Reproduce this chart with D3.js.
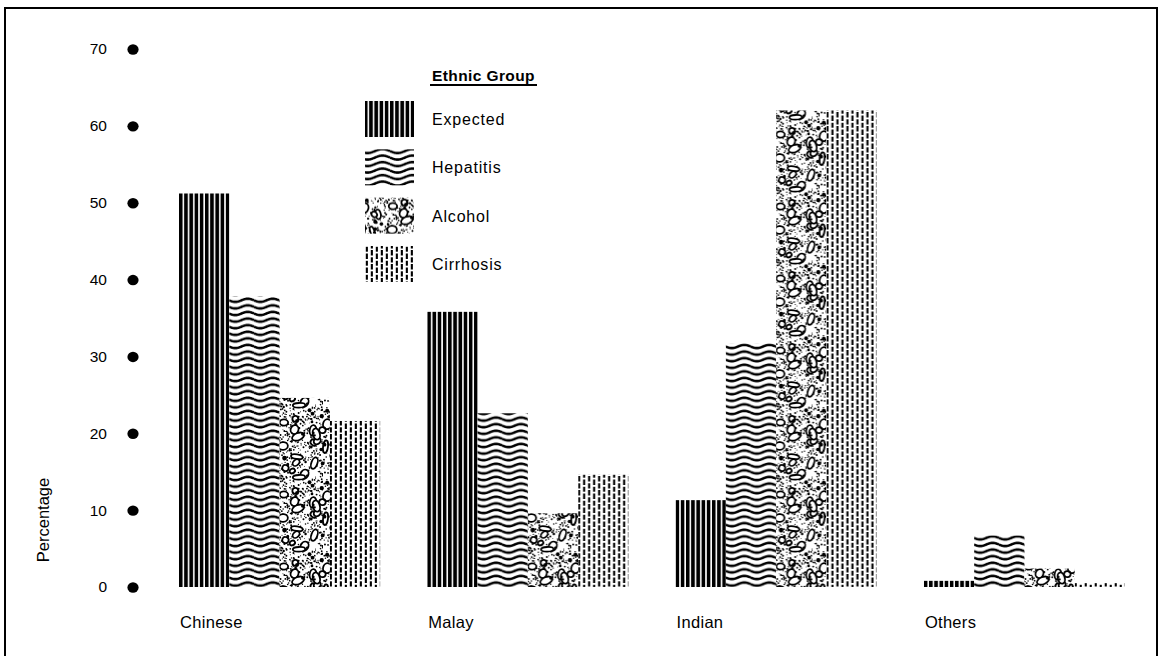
<!DOCTYPE html>
<html>
<head>
<meta charset="utf-8">
<script src="https://cdn.jsdelivr.net/npm/d3@7"></script>
<style>
  html, body { margin: 0; padding: 0; background: #fff; }
  svg { display: block; font-family: "Liberation Sans", Arial, Helvetica, sans-serif; }
</style>
</head>
<body>
<svg id="chart" width="1168" height="656"></svg>
<script>
// ---- data ----
const categories = ["Chinese", "Malay", "Indian", "Others"];
const seriesNames = ["Expected", "Hepatitis", "Alcohol", "Cirrhosis"];
const expected  = [51.2, 35.8, 11.3, 0.8];
const hepatitis = [37.8, 22.6, 31.7, 6.7];
const alcohol   = [24.6, 9.6, 62.0, 2.4];
const cirrhosis = [21.6, 14.6, 62.0, 0.5];
const yTicks = [0, 10, 20, 30, 40, 50, 60, 70];
const legendTitle = "Ethnic Group";
const yTitle = "Percentage";

const seriesValues = [expected, hepatitis, alcohol, cirrhosis];

const svg = d3.select("#chart");
const W = 1168, H = 656;

// ---- patterns ----
const defs = svg.append("defs");

// Expected: vertical solid stripes
const pE = defs.append("pattern").attr("id", "pat-expected")
  .attr("patternUnits", "userSpaceOnUse").attr("width", 5.2).attr("height", 10);
pE.append("rect").attr("width", 5.2).attr("height", 10).attr("fill", "#fff");
pE.append("rect").attr("x", 0).attr("width", 3.6).attr("height", 10).attr("fill", "#000");

// Hepatitis: wavy horizontal lines
const wl = 25, wp = 6.6, amp = 1.6;
const pH = defs.append("pattern").attr("id", "pat-hepatitis")
  .attr("patternUnits", "userSpaceOnUse").attr("width", wl).attr("height", wp);
pH.append("rect").attr("width", wl).attr("height", wp).attr("fill", "#fff");
[-wp, 0, wp].forEach(off => {
  const pts = d3.range(0, wl + 0.5, 0.5).map(x => [x, wp / 2 + off + amp * Math.sin(2 * Math.PI * x / wl)]);
  pH.append("path").attr("d", d3.line()(pts)).attr("fill", "none")
    .attr("stroke", "#000").attr("stroke-width", 2.5);
});
// legend version with larger waves
const lwl = 30, lwp = 6.5, lamp = 2;
const pHL = defs.append("pattern").attr("id", "pat-hepatitis-leg")
  .attr("patternUnits", "userSpaceOnUse").attr("width", lwl).attr("height", lwp);
pHL.append("rect").attr("width", lwl).attr("height", lwp).attr("fill", "#fff");
[-lwp, 0, lwp].forEach(off => {
  const pts = d3.range(0, lwl + 0.5, 0.5).map(x => [x, lwp / 2 + off + lamp * Math.sin(2 * Math.PI * x / lwl)]);
  pHL.append("path").attr("d", d3.line()(pts)).attr("fill", "none")
    .attr("stroke", "#000").attr("stroke-width", 2.4);
});

// Alcohol: stipple with pebbles (deterministic texture generator)
let seed = 11;
function rnd() { seed = (seed * 16807) % 2147483647; return (seed - 1) / 2147483646; }
const tA = 72;
const pA = defs.append("pattern").attr("id", "pat-alcohol")
  .attr("patternUnits", "userSpaceOnUse").attr("width", tA).attr("height", tA);
pA.append("rect").attr("width", tA).attr("height", tA).attr("fill", "#fff");
for (let i = 0; i < 620; i++) {
  pA.append("circle").attr("cx", rnd() * tA).attr("cy", rnd() * tA)
    .attr("r", 0.45 + rnd() * 0.6).attr("fill", "#000");
}
const offs = [];
[-tA, 0, tA].forEach(dx => [-tA, 0, tA].forEach(dy => offs.push([dx, dy])));
for (let i = 0; i < 24; i++) {
  const p = {x: rnd() * tA, y: rnd() * tA, rx: 2.8 + rnd() * 3.6, ry: 2.0 + rnd() * 2.2, a: rnd() * 180};
  offs.forEach(([dx, dy]) => {
    pA.append("ellipse").attr("cx", p.x + dx).attr("cy", p.y + dy)
      .attr("rx", p.rx).attr("ry", p.ry)
      .attr("transform", `rotate(${p.a},${p.x + dx},${p.y + dy})`)
      .attr("fill", "#fff").attr("stroke", "#000").attr("stroke-width", 1.8);
  });
}
for (let i = 0; i < 30; i++) {
  const p = {x: rnd() * tA, y: rnd() * tA, r: 1.0 + rnd() * 1.4};
  offs.forEach(([dx, dy]) => {
    pA.append("circle").attr("cx", p.x + dx).attr("cy", p.y + dy).attr("r", p.r).attr("fill", "#000");
  });
}

// Cirrhosis: vertical dashed lines, staggered
const pC = defs.append("pattern").attr("id", "pat-cirrhosis")
  .attr("patternUnits", "userSpaceOnUse").attr("width", 10).attr("height", 14);
pC.append("rect").attr("width", 10).attr("height", 14).attr("fill", "#fff");
pC.append("rect").attr("x", 0.8).attr("y", 0).attr("width", 2.1).attr("height", 5.5).attr("fill", "#000");
pC.append("rect").attr("x", 0.8).attr("y", 7.3).attr("width", 2.1).attr("height", 5.2).attr("fill", "#000");
pC.append("rect").attr("x", 5.8).attr("y", 3.5).attr("width", 2.1).attr("height", 5.5).attr("fill", "#000");
pC.append("rect").attr("x", 5.8).attr("y", 10.8).attr("width", 2.1).attr("height", 3.2).attr("fill", "#000");
pC.append("rect").attr("x", 5.8).attr("y", 0).attr("width", 2.1).attr("height", 1.7).attr("fill", "#000");

const fills = ["url(#pat-expected)", "url(#pat-hepatitis)", "url(#pat-alcohol)", "url(#pat-cirrhosis)"];
const legendFills = ["url(#pat-expected)", "url(#pat-hepatitis-leg)", "url(#pat-alcohol)", "url(#pat-cirrhosis)"];

// ---- frame ----
svg.append("path")
  .attr("d", `M5,${H + 5} L5,8 L1157,8 L1157,${H + 5}`)
  .attr("fill", "none").attr("stroke", "#000").attr("stroke-width", 2);

// ---- scales ----
const y = d3.scaleLinear().domain([0, 70]).range([587, 49]);
const x0 = d3.scaleBand().domain(categories).range([179, 1125]).paddingInner(0.19).paddingOuter(0);
const x1 = d3.scaleBand().domain(seriesNames).range([0, x0.bandwidth()]).padding(0);

// ---- y axis with dot ticks ----
const yAxis = d3.axisLeft(y).tickValues(yTicks).tickSize(0).tickPadding(26).tickFormat(d3.format("d"));
const gy = svg.append("g").attr("transform", "translate(133,0)").call(yAxis);
gy.select(".domain").remove();
gy.selectAll(".tick text").attr("font-size", 15.5).attr("fill", "#000")
  .attr("font-family", "'Liberation Sans', Arial, sans-serif");
gy.selectAll(".tick").append("ellipse").attr("rx", 5.6).attr("ry", 5.2).attr("fill", "#000");

svg.append("text")
  .attr("transform", "translate(49,520) rotate(-90)")
  .attr("text-anchor", "middle").attr("font-size", 16.5).attr("fill", "#000")
  .text(yTitle);

// ---- bars ----
const groups = svg.append("g").selectAll("g").data(categories).join("g")
  .attr("transform", d => `translate(${x0(d)},0)`);
groups.selectAll("rect")
  .data((c, ci) => seriesNames.map((s, si) => ({s, si, v: seriesValues[si][ci]})))
  .join("rect")
  .attr("x", d => x1(d.s))
  .attr("y", d => y(d.v))
  .attr("width", x1.bandwidth())
  .attr("height", d => y(0) - y(d.v))
  .attr("fill", d => fills[d.si]);

// ---- category labels ----
svg.append("g").selectAll("text").data(categories).join("text")
  .attr("x", d => x0(d) + 1)
  .attr("y", 628)
  .attr("font-size", 16.5).attr("letter-spacing", 0.3).attr("fill", "#000")
  .text(d => d);

// ---- legend ----
svg.append("text").attr("x", 432).attr("y", 81)
  .attr("font-size", 15.5).attr("font-weight", "bold").attr("letter-spacing", 0.4)
  .attr("fill", "#000").text(legendTitle);
svg.append("line").attr("x1", 430).attr("x2", 537).attr("y1", 85).attr("y2", 85)
  .attr("stroke", "#000").attr("stroke-width", 2);

const legY = d3.scalePoint().domain(seriesNames).range([119, 264]);
const lg = svg.append("g").selectAll("g").data(seriesNames).join("g")
  .attr("transform", d => `translate(0,${legY(d)})`);
lg.append("rect").attr("x", 365).attr("y", -18).attr("width", 49).attr("height", 36)
  .attr("fill", (d, i) => legendFills[i]);
lg.append("text").attr("x", 432).attr("y", 6)
  .attr("font-size", 16).attr("letter-spacing", 0.8).attr("fill", "#000")
  .text(d => d);
</script>
</body>
</html>
